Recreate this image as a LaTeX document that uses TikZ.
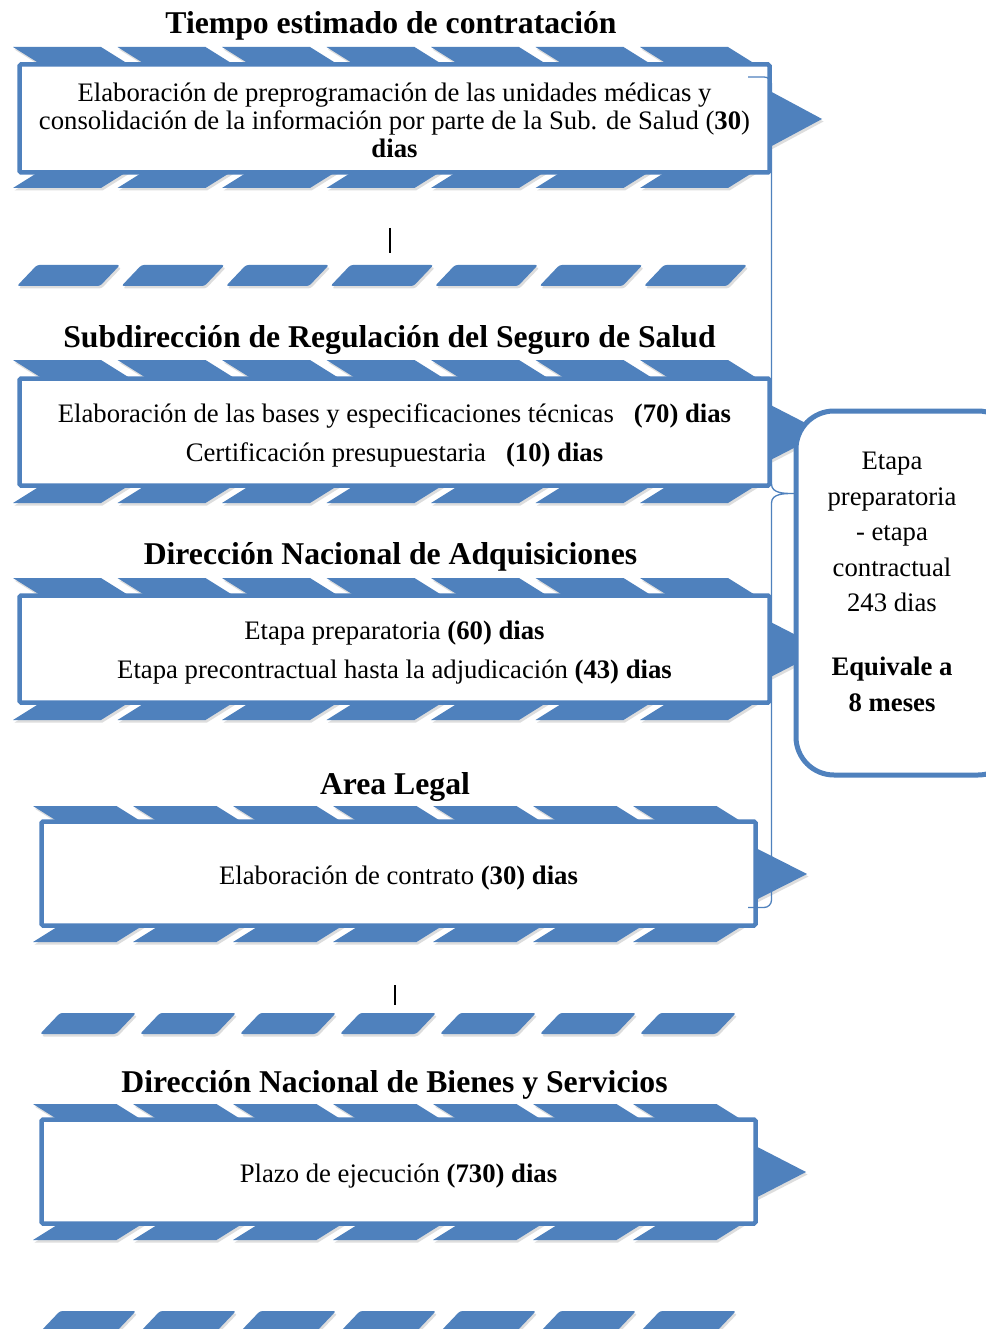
\documentclass[tikz,border=0pt]{standalone}
\usepackage{fontspec}
\setmainfont{Liberation Serif}
\usetikzlibrary{shadows}
\definecolor{sblue}{HTML}{4F81BD}
\tikzset{
  shad/.style={drop shadow={opacity=0.22, shadow xshift=1.5pt, shadow yshift=-2.5pt, fill=black!60}},
  seg/.style={fill=sblue, shad},
  rseg/.style={fill=sblue, rounded corners=2.5pt, shad},
  tri/.style={fill=sblue, shad},
  stagebox/.style={draw=sblue, line width=4.5pt, fill=white, rounded corners=1.5pt, inner sep=0pt},
  titletext/.style={font=\fontsize{31.7}{36}\selectfont\bfseries, inner sep=0pt},
  body/.style={font=\fontsize{26.7}{28}\selectfont, align=center, inner sep=0pt},
  brace/.style={draw=sblue, line width=1.3pt},
  sidebox/.style={draw=sblue, line width=5pt, fill=white, rounded corners=38pt, inner sep=0pt},
  cursorline/.style={draw=black, line width=1.4pt},
}
\newcommand\TopStrip[3]{\foreach \i in {0,...,6}{\fill[seg] ({#1+\i*#2},#3) -- ++({#2-16.5},0) -- ++(32,20) -- ++({-(#2-16.5)},0) -- cycle;}}
\newcommand\BotStrip[3]{\foreach \i in {0,...,6}{\fill[seg] ({#1+\i*#2},#3) -- ++({#2-16.5},0) -- ++(32,-20) -- ++({-(#2-16.5)},0) -- cycle;}}
\newcommand\SepStrip[4]{\foreach \i in {0,...,6}{\fill[rseg] ({#1+\i*#2},#3) -- ++(20,-21) -- ++(#4,0) -- ++(-20,21) -- cycle;}}
\begin{document}
\begin{tikzpicture}[x=1pt,y=-1pt]
\useasboundingbox (0,0) rectangle (985,1329);
\fill[white] (0,0) rectangle (985,1329);

% strips
\TopStrip{13}{104.5}{47}
\BotStrip{13}{104.5}{188}
\SepStrip{17}{104.5}{286}{83}
\TopStrip{13}{104.5}{360}
\BotStrip{13}{104.5}{503}
\TopStrip{13}{104.5}{578}
\BotStrip{13}{104.5}{720}
\TopStrip{33}{100}{806}
\BotStrip{33}{100}{942}
\SepStrip{40}{100}{1034}{76}
\TopStrip{33}{100}{1104}
\BotStrip{33}{100}{1240}
\SepStrip{40}{100}{1332}{76}

% arrow triangles
\fill[tri] (755,83) -- (822,119) -- (755,155) -- cycle;
\fill[tri] (755,397) -- (824,432.5) -- (755,468) -- cycle;
\fill[tri] (755,614) -- (824,649.5) -- (755,685) -- cycle;
\fill[tri] (740,840) -- (807,874) -- (740,908) -- cycle;
\fill[tri] (740,1138) -- (806,1172) -- (740,1206) -- cycle;

% stage boxes
\node[stagebox, minimum width=750pt, minimum height=108pt] (b1) at (394.5,118.5) {};
\node[stagebox, minimum width=750pt, minimum height=107pt] (b2) at (394.5,432) {};
\node[stagebox, minimum width=750pt, minimum height=107pt] (b3) at (394.5,649) {};
\node[stagebox, minimum width=714pt, minimum height=104pt] (b4) at (398.5,873.5) {};
\node[stagebox, minimum width=714pt, minimum height=104pt] (b5) at (398.5,1171.5) {};

% box texts
\path (b1.center) ++(0,1.5) node[body] (b1t)
  {Elaboración de preprogramación de las unidades médicas y\\consolidación de la información por parte de la Sub. de Salud (\textbf{30})\\\textbf{dias}};
\path (b2.center) ++(0,3) node[body] (b2t)
  {Elaboración de las bases y especificaciones técnicas\hspace{0.75em}\textbf{(70) dias}\\[11pt]Certificación presupuestaria\hspace{0.75em}\textbf{(10) dias}};
\path (b3.center) ++(0,4) node[body] (b3t)
  {Etapa preparatoria \textbf{(60) dias}\\[11pt]Etapa precontractual hasta la adjudicación \textbf{(43) dias}};
\path (b4.center) ++(0,5) node[body] (b4t) {Elaboración de contrato \textbf{(30) dias}};
\path (b5.center) ++(0,5) node[body] (b5t) {Plazo de ejecución \textbf{(730) dias}};

% titles
\node[titletext] (t1) at (391,26) {Tiempo estimado de contratación};
\node[titletext] (t2) at (389.5,340) {Subdirección de Regulación del Seguro de Salud};
\node[titletext] (t3) at (390.5,557) {Dirección Nacional de Adquisiciones};
\node[titletext] (t4) at (395,787) {Area Legal};
\node[titletext] (t5) at (394.5,1085) {Dirección Nacional de Bienes y Servicios};

% cursor marks
\coordinate (c1a) at (390,228); \coordinate (c1b) at (390,253);
\coordinate (c2a) at (395,985); \coordinate (c2b) at (395,1005);
\draw[cursorline] (c1a) -- (c1b);
\draw[cursorline] (c2a) -- (c2b);

% brace
\coordinate (brtop) at (748,77);
\coordinate (brtip) at (794,493.5);
\coordinate (brbot) at (748,907.5);
\draw[brace] (brtop) -- (764,77) to[out=0,in=90] (771.5,84) -- (771.5,484) to[out=-90,in=180] (brtip)
  to[out=180,in=90] (771.5,503) -- (771.5,900) to[out=-90,in=0] (764,907.5) -- (brbot);

% side box
\node[sidebox, minimum width=220pt, minimum height=364pt] (sb) at (906,593) {};
\node[font=\fontsize{26.7}{35.5}\selectfont, align=center, inner sep=0pt] (sbt) at (892,582)
  {Etapa\\preparatoria\\- etapa\\contractual\\243 dias\\[28.5pt]\textbf{Equivale a}\\\textbf{8 meses}};
\end{tikzpicture}
\end{document}
